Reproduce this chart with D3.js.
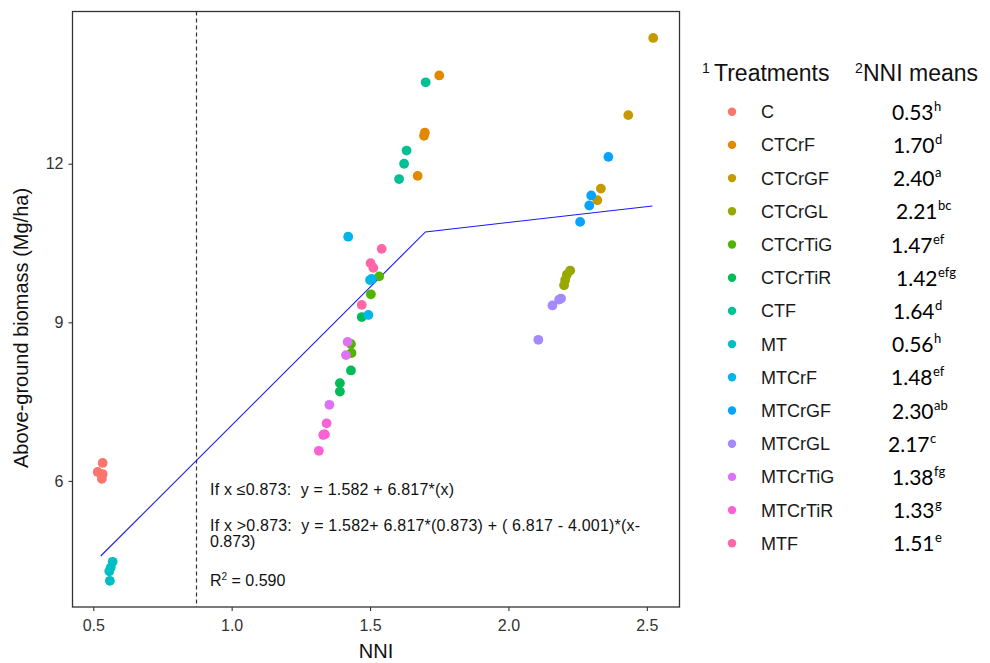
<!DOCTYPE html>
<html>
<head>
<meta charset="utf-8">
<script src="https://cdn.jsdelivr.net/npm/d3@7"></script>
<style>
  body { margin: 0; background: #fff; }
  text { font-family: "Liberation Sans", Arial, sans-serif; }
</style>
</head>
<body>
<div id="chart"></div>
<script>
// Treatments and their mean NNI (with significance letters)
const treatments = ["C", "CTCrF", "CTCrGF", "CTCrGL", "CTCrTiG", "CTCrTiR", "CTF",
                    "MT", "MTCrF", "MTCrGF", "MTCrGL", "MTCrTiG", "MTCrTiR", "MTF"];
const nniMeans = ["0.53", "1.70", "2.40", "2.21", "1.47", "1.42", "1.64",
                  "0.56", "1.48", "2.30", "2.17", "1.38", "1.33", "1.51"];
const meanLetters = ["h", "d", "a", "bc", "ef", "efg", "d", "h", "ef", "ab", "c", "fg", "g", "e"];
const colors = ["#F8766D", "#E38900", "#C49A00", "#99A800", "#53B400", "#00BC56", "#00C094",
                "#00BFC4", "#00B6EB", "#06A4FF", "#A58AFF", "#DF70F8", "#FB61D7", "#FF66A8"];

// observations per treatment (same order as treatments)
const pointNNI = [
  [0.534, 0.516, 0.534, 0.531],
  [1.750, 1.698, 1.695, 1.672],
  [2.523, 2.433, 2.334, 2.321],
  [2.223, 2.211, 2.205, 2.201],
  [1.533, 1.503, 1.431, 1.433],
  [1.470, 1.431, 1.391, 1.391],
  [1.701, 1.632, 1.623, 1.605],
  [0.570, 0.563, 0.558, 0.560],
  [1.421, 1.506, 1.494, 1.500],
  [2.361, 2.299, 2.292, 2.259],
  [2.183, 2.159, 2.108, 2.190],
  [1.419, 1.413, 1.353, 1.333],
  [1.343, 1.337, 1.331, 1.315],
  [1.542, 1.502, 1.512, 1.470]
];
const pointBiomass = [
  [6.34, 6.17, 6.13, 6.04],
  [13.67, 12.59, 12.53, 11.77],
  [14.38, 12.92, 11.53, 11.31],
  [9.98, 9.90, 9.80, 9.70],
  [9.87, 9.53, 8.59, 8.42],
  [9.10, 8.09, 7.85, 7.69],
  [13.54, 12.25, 12.00, 11.71],
  [4.47, 4.36, 4.29, 4.11],
  [10.62, 9.82, 9.14, 9.80],
  [12.13, 11.40, 11.21, 10.90],
  [9.43, 9.32, 8.67, 9.45],
  [8.63, 8.38, 7.44, 6.88],
  [7.09, 6.88, 6.87, 6.57],
  [10.39, 10.12, 10.03, 9.33]
];

// fitted segmented line
const fitNNI = [0.527, 1.70, 2.52];
const fitBiomass = [4.58, 10.71, 11.20];
const breakpoint = 0.873;

const xTicks = [0.5, 1.0, 1.5, 2.0, 2.5];
const yTicks = [6, 9, 12];
const xDomain = [0.425, 2.618];
const yDomain = [3.615, 14.88];

const width = 990, height = 663;
const panel = {left: 72.5, right: 679.5, top: 11.5, bottom: 607};

const svg = d3.select("#chart").append("svg")
    .attr("width", width)
    .attr("height", height);

const x = d3.scaleLinear().domain(xDomain).range([panel.left, panel.right]);
const y = d3.scaleLinear().domain(yDomain).range([panel.bottom, panel.top]);

// axes
const xAxis = svg.append("g")
    .attr("transform", `translate(0,${panel.bottom})`)
    .call(d3.axisBottom(x).tickValues(xTicks).tickFormat(d3.format(".1f")).tickSizeOuter(0).tickSize(4));
const yAxis = svg.append("g")
    .attr("transform", `translate(${panel.left},0)`)
    .call(d3.axisLeft(y).tickValues(yTicks).tickFormat(d3.format("d")).tickSizeOuter(0).tickSize(4));

[xAxis, yAxis].forEach(a => {
    a.select(".domain").remove();
    a.selectAll(".tick line").attr("stroke", "#333").attr("stroke-width", 1.1);
    a.selectAll(".tick text")
        .attr("fill", "#333")
        .style("font-size", "16px")
        .style("font-family", "'Liberation Sans', Arial, sans-serif");
});
xAxis.selectAll(".tick text").attr("dy", "1.05em");
yAxis.selectAll(".tick text").attr("dx", "-2px");

// panel border
svg.append("rect")
    .attr("x", panel.left)
    .attr("y", panel.top)
    .attr("width", panel.right - panel.left)
    .attr("height", panel.bottom - panel.top)
    .attr("fill", "none")
    .attr("stroke", "#333")
    .attr("stroke-width", 1.3);

// breakpoint
svg.append("line")
    .attr("x1", x(breakpoint)).attr("x2", x(breakpoint))
    .attr("y1", panel.top).attr("y2", panel.bottom)
    .attr("stroke", "#333")
    .attr("stroke-width", 1.2)
    .attr("stroke-dasharray", "4,3");

// fitted line
const line = d3.line().x(d => x(d[0])).y(d => y(d[1]));
svg.append("path")
    .datum(fitNNI.map((v, i) => [v, fitBiomass[i]]))
    .attr("d", line)
    .attr("fill", "none")
    .attr("stroke", "#1a1aff")
    .attr("stroke-width", 1.1);

// points
const points = [];
treatments.forEach((t, i) => {
    pointNNI[i].forEach((v, j) => points.push({t: i, nni: v, bio: pointBiomass[i][j]}));
});
svg.selectAll(".pt")
    .data(points)
    .enter()
    .append("circle")
    .attr("class", "pt")
    .attr("cx", d => x(d.nni))
    .attr("cy", d => y(d.bio))
    .attr("r", 4.9)
    .attr("fill", d => colors[d.t]);

// equation text (nbsp keeps the double spaces)
const eq = svg.append("g")
    .style("font-size", "16px")
    .attr("fill", "#111");
eq.append("text").attr("x", 210).attr("y", 495)
    .attr("textLength", 244).attr("lengthAdjust", "spacing")
    .text("If x \u22640.873: \u00A0y = 1.582 + 6.817*(x)");
eq.append("text").attr("x", 210).attr("y", 531)
    .attr("textLength", 430).attr("lengthAdjust", "spacing")
    .text("If x >0.873: \u00A0y = 1.582+ 6.817*(0.873) + ( 6.817 - 4.001)*(x-");
eq.append("text").attr("x", 210).attr("y", 547).text("0.873)");
const r2 = eq.append("text").attr("x", 210).attr("y", 586);
r2.append("tspan").text("R");
r2.append("tspan").attr("dy", -6).style("font-size", "10px").text("2");
r2.append("tspan").attr("dy", 6).text(" = 0.590");

// axis titles
svg.append("text")
    .attr("x", (panel.left + panel.right) / 2)
    .attr("y", 658)
    .attr("text-anchor", "middle")
    .attr("fill", "#111")
    .style("font-size", "20px")
    .text("NNI");
svg.append("text")
    .attr("transform", "translate(28,328) rotate(-90)")
    .attr("text-anchor", "middle")
    .attr("fill", "#111")
    .style("font-size", "20px")
    .text("Above-ground biomass (Mg/ha)");

// legend
const legend = svg.append("g");
legend.append("text").attr("x", 702).attr("y", 73).style("font-size", "14px").attr("fill", "#111").text("1");
legend.append("text").attr("x", 714).attr("y", 81).style("font-size", "23px").attr("fill", "#111").text("Treatments");
legend.append("text").attr("x", 855).attr("y", 73).style("font-size", "14px").attr("fill", "#111").text("2");
legend.append("text").attr("x", 863).attr("y", 81).style("font-size", "23px").attr("fill", "#111").text("NNI means");

const valueX = [892, 893, 893, 896, 891, 896, 893, 892, 891, 892, 888, 892, 893, 893];
const rowY = d3.scaleLinear().domain([0, treatments.length - 1]).range([111.7, 543.3]);

treatments.forEach((t, i) => {
    const cy = rowY(i);
    legend.append("circle")
        .attr("cx", 732).attr("cy", cy).attr("r", 4.2)
        .attr("fill", colors[i]);
    legend.append("text")
        .attr("x", 761).attr("y", cy + 6.5)
        .style("font-size", "18px")
        .attr("fill", "#1a1a1a")
        .text(t);
    const val = legend.append("text")
        .attr("x", valueX[i]).attr("y", cy + 8)
        .style("font-family", "Lato, 'Open Sans', sans-serif")
        .style("font-size", "21px")
        .attr("fill", "#000")
        .text(nniMeans[i]);
    const w = val.node().getComputedTextLength();
    legend.append("text")
        .attr("x", valueX[i] + w + 0.5).attr("y", cy - 1)
        .style("font-family", "Lato, 'Open Sans', sans-serif")
        .style("font-size", "13px")
        .attr("fill", "#000")
        .text(meanLetters[i]);
});
</script>
</body>
</html>
